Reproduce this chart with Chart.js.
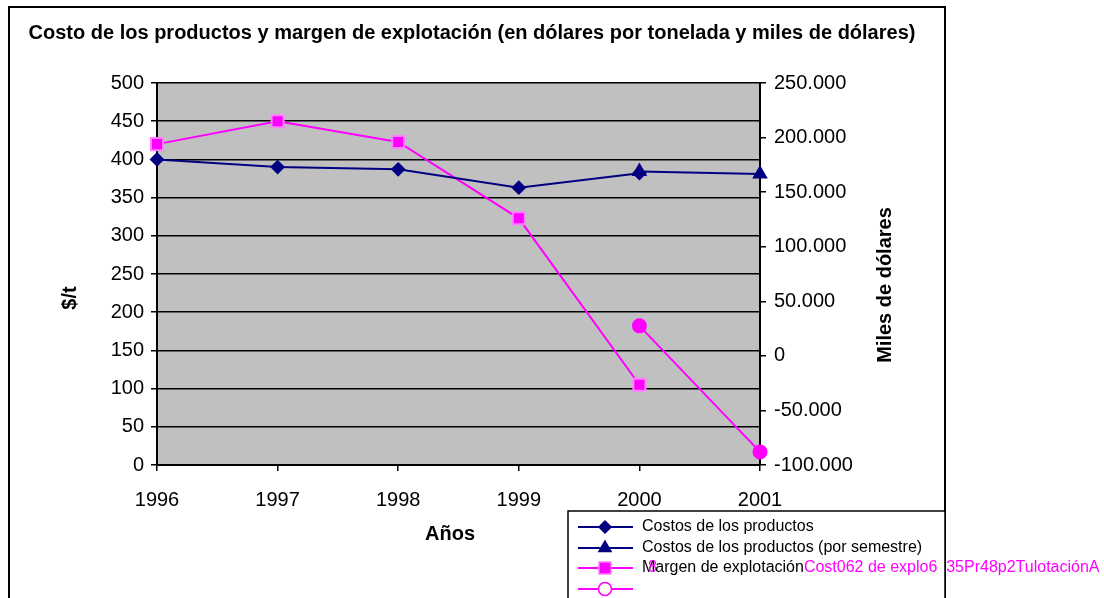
<!DOCTYPE html>
<html>
<head>
<meta charset="utf-8">
<script src="https://cdn.jsdelivr.net/npm/chart.js@4.4.1/dist/chart.umd.min.js"></script>
<style>
  body { margin: 0; background: #fff; }
  canvas { display: block; }
</style>
</head>
<body>
<canvas id="myChart" width="1104" height="598"></canvas>
<script>
// data
const years = ['1996', '1997', '1998', '1999', '2000', '2001'];
const costos = [400, 390, 387, 363, 382, null];
const costosSemestre = [null, null, null, null, 384, 381];
const margen = [194000, 215000, 196000, 126000, -26500, null];
const margenOtro = [null, null, null, null, 27500, -88000];

const legendLabels = [
    'Costos de los productos',
    'Costos de los productos (por semestre)',
    'Margen de explotación',
    ''
];
const strayText = 'Cost062 de explo6  35Pr48p2TulotaciónA';

const NAVY = '#000080';
const PINK = '#ff00ff';
const FONT = '"Liberation Sans", Arial, sans-serif';

const thousands = (v) => {
    const s = String(Math.abs(v)).replace(/\B(?=(\d{3})+(?!\d))/g, '.');
    return v < 0 ? '-' + s : s;
}

const drawMarker = (ctx, style, x, y, r, fill, stroke) => {
    ctx.save();
    ctx.fillStyle = fill;
    ctx.strokeStyle = stroke;
    ctx.lineWidth = 1.5;
    ctx.beginPath();
    if (style === 'rectRot') {
        ctx.moveTo(x - r, y); ctx.lineTo(x, y - r); ctx.lineTo(x + r, y); ctx.lineTo(x, y + r);
        ctx.closePath();
    } else if (style === 'triangle') {
        ctx.moveTo(x, y - r); ctx.lineTo(x + r * 0.866, y + r / 2); ctx.lineTo(x - r * 0.866, y + r / 2);
        ctx.closePath();
    } else if (style === 'rect') {
        const s = r * Math.SQRT1_2;
        ctx.rect(x - s, y - s, 2 * s, 2 * s);
    } else {
        ctx.arc(x, y, r, 0, Math.PI * 2);
    }
    if (fill) ctx.fill();
    ctx.stroke();
    ctx.restore();
}

const framePlugin = {
    id: 'frame',
    beforeDraw(chart) {
        const { ctx, chartArea: a } = chart;
        ctx.save();
        ctx.fillStyle = '#fff';
        ctx.fillRect(0, 0, chart.width, chart.height);
        ctx.fillStyle = '#c0c0c0';
        ctx.fillRect(a.left, a.top, a.right - a.left, a.bottom - a.top);
        ctx.restore();
    },
    afterDraw(chart) {
        const ctx = chart.ctx;
        ctx.save();
        // outer frame
        ctx.strokeStyle = '#000';
        ctx.lineWidth = 2;
        ctx.beginPath();
        ctx.moveTo(9, 610); ctx.lineTo(9, 7); ctx.lineTo(945, 7); ctx.lineTo(945, 610);
        ctx.stroke();

        // title
        ctx.fillStyle = '#000';
        ctx.textAlign = 'center';
        ctx.textBaseline = 'middle';
        ctx.font = 'bold 20px ' + FONT;
        ctx.fillText('Costo de los productos y margen de explotación (en dólares por tonelada y miles de dólares)', 472, 33);

        // axis titles
        ctx.font = 'bold 20px ' + FONT;
        ctx.fillText('Años', 450, 534);
        ctx.save();
        ctx.translate(70, 298);
        ctx.rotate(-Math.PI / 2);
        ctx.fillText('$/t', 0, 0);
        ctx.restore();
        ctx.save();
        ctx.translate(885, 285);
        ctx.rotate(-Math.PI / 2);
        ctx.fillText('Miles de dólares', 0, 0);
        ctx.restore();

        // legend box
        ctx.fillStyle = '#fff';
        ctx.fillRect(568, 511, 377, 100);
        ctx.lineWidth = 1.5;
        ctx.strokeRect(568, 511, 377, 100);

        const rows = [527, 548, 568, 589];
        const sets = chart.data.datasets;
        ctx.font = '16px ' + FONT;
        ctx.textAlign = 'left';
        for (let i = 0; i < sets.length; i++) {
            const ds = sets[i];
            const y = rows[i];
            ctx.strokeStyle = ds.borderColor;
            ctx.lineWidth = 2;
            ctx.beginPath();
            ctx.moveTo(578, y); ctx.lineTo(633, y);
            ctx.stroke();
            const fill = i === 3 ? '#fff' : ds.pointBackgroundColor;
            drawMarker(ctx, ds.pointStyle, 605, y, ds.pointRadius, fill, ds.pointBorderColor);
            ctx.fillStyle = '#000';
            ctx.fillText(legendLabels[i], 642, y);
        }
        // overlapping leftovers in the third legend row
        const w = ctx.measureText(legendLabels[2]).width;
        ctx.fillStyle = PINK;
        ctx.fillText(strayText, 642 + w, rows[2]);
        ctx.fillText('8', 648, rows[2]);
        ctx.restore();
    }
};

const init = () => {
    const ctx = document.getElementById('myChart').getContext('2d');
    const data = {
        labels: years,
        datasets: [{
            label: legendLabels[0],
            data: costos,
            yAxisID: 'y',
            borderColor: NAVY,
            borderWidth: 2,
            pointStyle: 'rectRot',
            pointRadius: 6,
            pointBackgroundColor: NAVY,
            pointBorderColor: NAVY
        }, {
            label: legendLabels[1],
            data: costosSemestre,
            yAxisID: 'y',
            borderColor: NAVY,
            borderWidth: 2,
            pointStyle: 'triangle',
            pointRadius: 7,
            pointBackgroundColor: NAVY,
            pointBorderColor: NAVY
        }, {
            label: legendLabels[2],
            data: margen,
            yAxisID: 'y2',
            borderColor: PINK,
            borderWidth: 2,
            pointStyle: 'rect',
            pointRadius: 8.5,
            pointBackgroundColor: PINK,
            pointBorderColor: '#ff80ff'
        }, {
            label: legendLabels[3],
            data: margenOtro,
            yAxisID: 'y2',
            borderColor: PINK,
            borderWidth: 2,
            pointStyle: 'circle',
            pointRadius: 6.5,
            pointBackgroundColor: PINK,
            pointBorderColor: PINK
        }]
    };

    new Chart(ctx, {
        type: 'line',
        data,
        plugins: [framePlugin],
        options: {
            responsive: false,
            animation: false,
            spanGaps: false,
            layout: { padding: { top: 83, left: 0, right: 0, bottom: 0 } },
            plugins: {
                legend: { display: false },
                title: { display: false },
                tooltip: { enabled: false }
            },
            elements: { line: { tension: 0 } },
            scales: {
                x: {
                    type: 'category',
                    offset: false,
                    grid: { drawOnChartArea: false, drawTicks: true, tickLength: 6, color: '#000', lineWidth: 1.5 },
                    border: { color: '#000', width: 2 },
                    ticks: { color: '#000', font: { family: FONT, size: 20 }, padding: 17, maxRotation: 0, autoSkip: false },
                    afterFit: (s) => { s.height = 133; }
                },
                y: {
                    position: 'left',
                    min: 0,
                    max: 500,
                    grid: { color: '#000', lineWidth: 1.5, tickLength: 6 },
                    border: { color: '#000', width: 2 },
                    ticks: { stepSize: 50, color: '#000', font: { family: FONT, size: 20 }, padding: 7 },
                    afterFit: (s) => { s.width = 157; }
                },
                y2: {
                    position: 'right',
                    min: -100000,
                    max: 250000,
                    grid: { drawOnChartArea: false, color: '#000', lineWidth: 1.5, tickLength: 6 },
                    border: { color: '#000', width: 2 },
                    ticks: { stepSize: 50000, color: '#000', font: { family: FONT, size: 20 }, padding: 8, callback: (v) => thousands(v) },
                    afterFit: (s) => { s.width = 344; }
                }
            }
        }
    });
}

init();
</script>
</body>
</html>
